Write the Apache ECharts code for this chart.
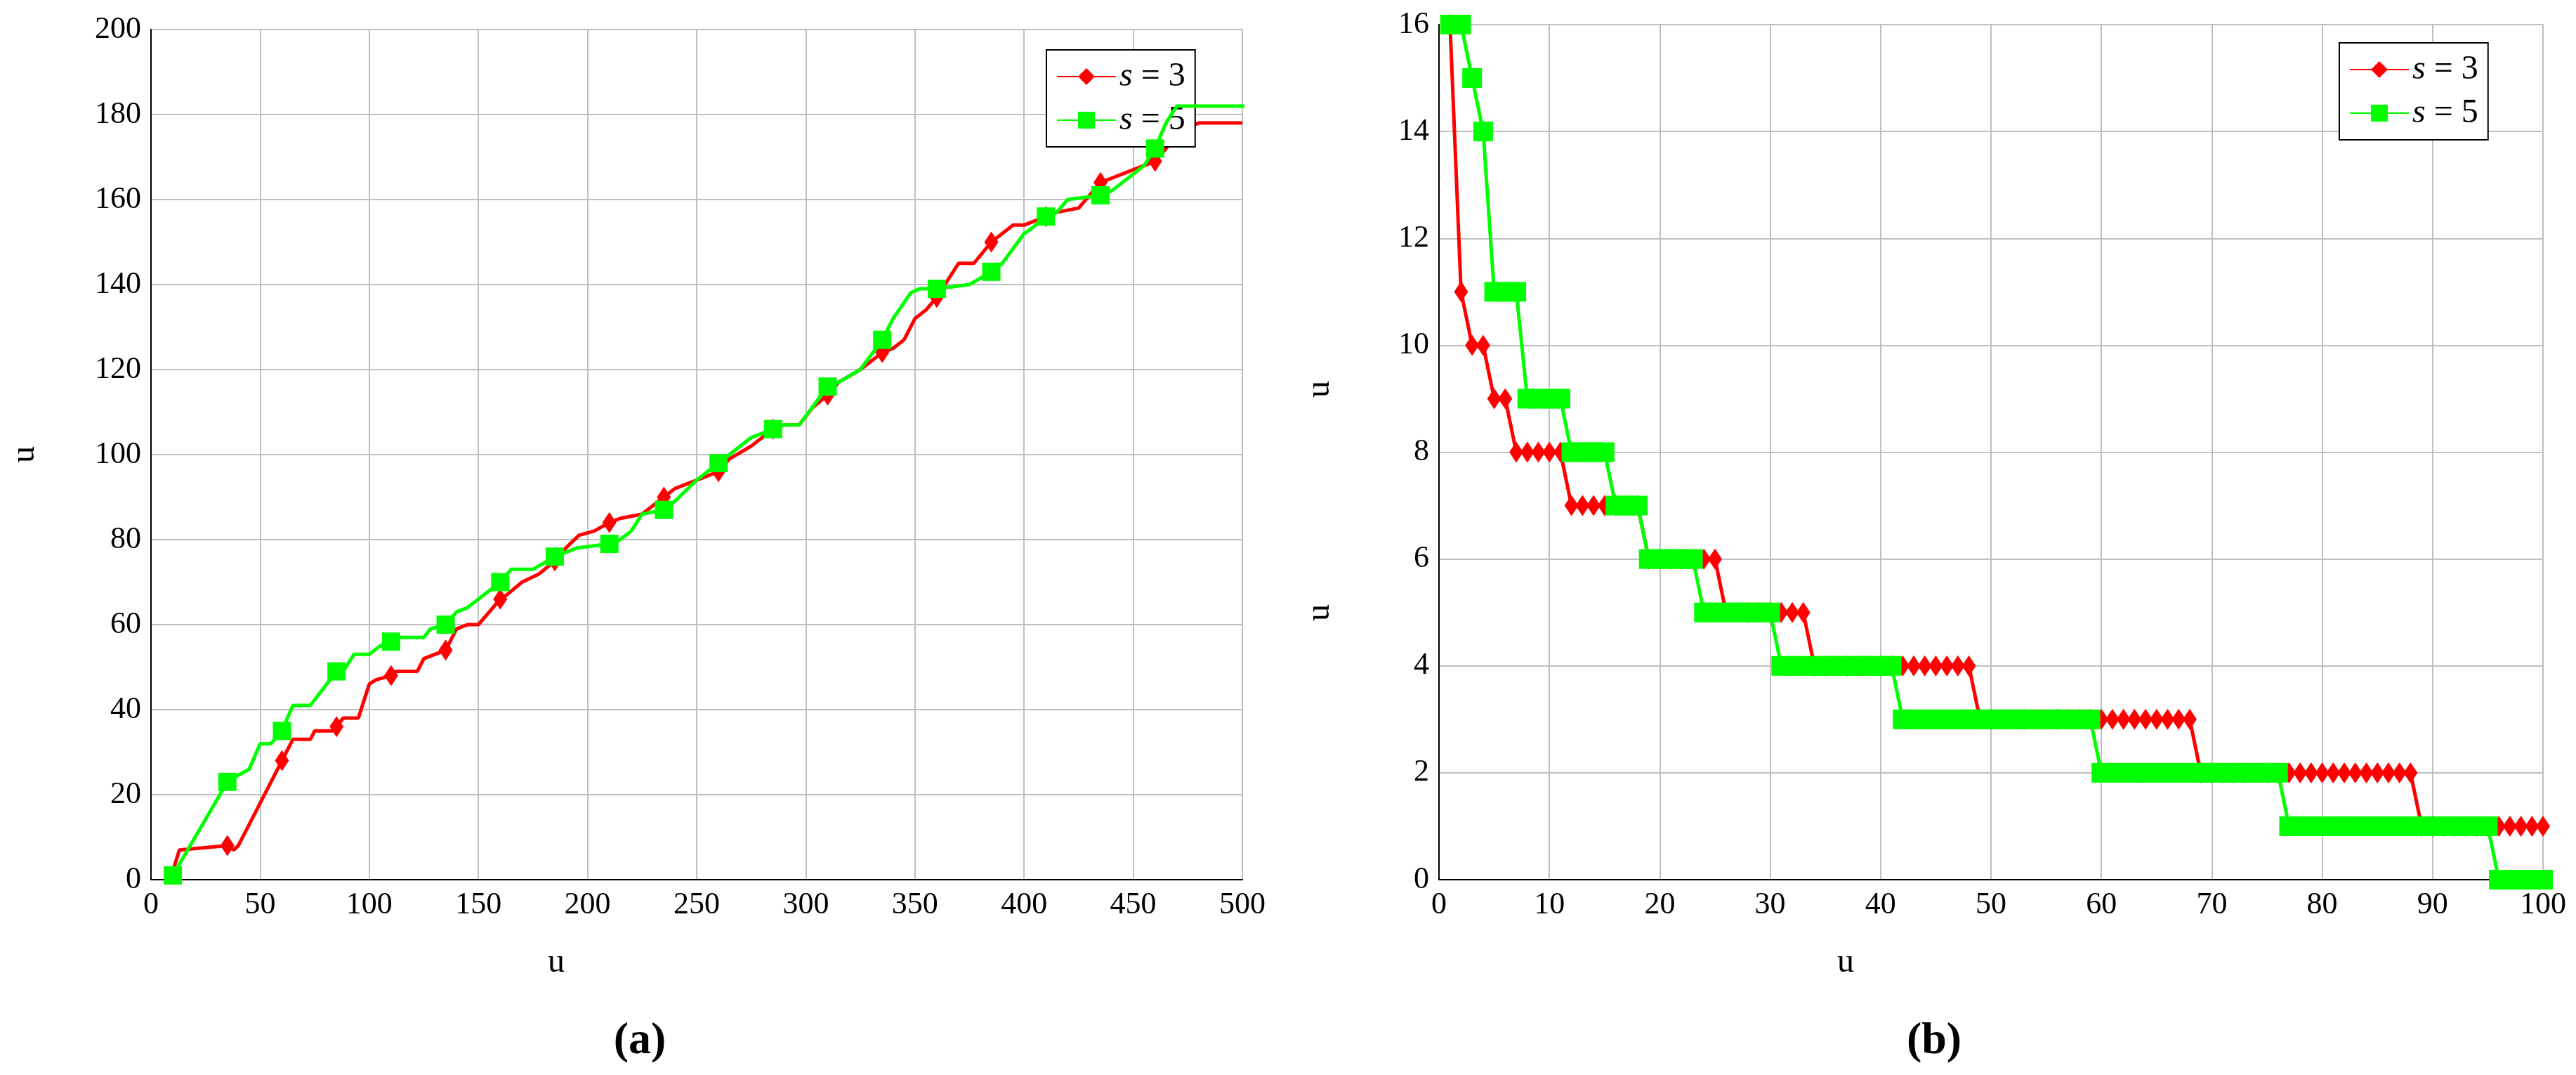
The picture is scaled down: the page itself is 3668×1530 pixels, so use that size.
<!DOCTYPE html>
<html><head><meta charset="utf-8">
<script src="https://cdn.jsdelivr.net/npm/echarts@6/dist/echarts.min.js"></script>
<style>html,body{margin:0;padding:0;background:#fff}#c{width:3668px;height:1530px}</style>
</head><body><div id="c"></div>
<script>
// Panel (a): line breakpoints and marker points
const aRedLine = [[10,2],[13,7],[38,7],[35,8],[40,8],[60,28],[65,33],[73,33],[75,35],[83,35],[85,36],[88,38],[95,38],[100,46],[103,47],[110,48],[112,49],[122,49],[125,52],[130,53],[135,54],[140,59],[145,60],[150,60],[155,63],[160,66],[163,67],[170,70],[178,72],[185,75],[190,78],[196,81],[203,82],[210,84],[215,85],[225,86],[235,90],[240,92],[250,94],[260,96],[265,99],[275,102],[285,106],[290,107],[297,107],[303,111],[310,114],[315,117],[325,120],[335,124],[340,125],[345,127],[350,132],[355,134],[360,137],[365,141],[370,145],[377,145],[385,150],[390,152],[395,154],[400,154],[410,156],[415,157],[425,158],[435,164],[440,165],[450,167],[460,169],[465,172],[470,175],[475,177],[480,178],[500,178]];
const aRedMarkers = [[35,8],[60,28],[85,36],[110,48],[135,54],[160,66],[185,75],[210,84],[235,90],[260,96],[285,106],[310,114],[335,124],[360,137],[385,150],[410,156],[435,164],[460,169]];
const aGreenLine = [[10,1],[35,23],[38,24],[45,26],[50,32],[55,32],[60,35],[65,41],[73,41],[85,49],[88,49],[93,53],[100,53],[105,55],[110,56],[113,57],[125,57],[128,59],[135,60],[140,63],[145,64],[150,66],[160,70],[165,73],[175,73],[185,76],[190,77],[195,78],[210,79],[215,80],[220,82],[225,86],[235,87],[240,89],[250,94],[260,98],[265,100],[275,104],[285,106],[290,107],[297,107],[310,116],[315,117],[325,120],[335,127],[340,132],[348,138],[352,139],[360,139],[375,140],[385,143],[390,145],[400,152],[403,153],[410,156],[415,157],[420,160],[435,161],[440,162],[450,166],[455,168],[460,172],[465,178],[470,182],[505,182]];
const aGreenMarkers = [[10,1],[35,23],[60,35],[85,49],[110,56],[135,60],[160,70],[185,76],[210,79],[235,87],[260,98],[285,106],[310,116],[335,127],[360,139],[385,143],[410,156],[435,161],[460,172]];
// Panel (b): values for x = 1..100
const bRed = [16,11,10,10,9,9,8,8,8,8,8,7,7,7,7,7,7,7,6,6,6,6,6,6,6,5,5,5,5,5,5,5,5,4,4,4,4,4,4,4,4,4,4,4,4,4,4,4,3,3,3,3,3,3,3,3,3,3,3,3,3,3,3,3,3,3,3,3,2,2,2,2,2,2,2,2,2,2,2,2,2,2,2,2,2,2,2,2,1,1,1,1,1,1,1,1,1,1,1,1];
const bGreen = [16,16,15,14,11,11,11,9,9,9,9,8,8,8,8,7,7,7,6,6,6,6,6,5,5,5,5,5,5,5,4,4,4,4,4,4,4,4,4,4,4,3,3,3,3,3,3,3,3,3,3,3,3,3,3,3,3,3,3,2,2,2,2,2,2,2,2,2,2,2,2,2,2,2,2,2,1,1,1,1,1,1,1,1,1,1,1,1,1,1,1,1,1,1,1,0,0,0,0,0];
const aXTicks = [0,50,100,150,200,250,300,350,400,450,500];

const RED='#ff0000', GREEN='#00ff00', FONT='Liberation Serif';
function merge(line, markers, size){
  const key = m => m[0]+','+m[1];
  const ms = new Set(markers.map(key));
  const all = line.slice();
  markers.forEach(m=>{ if(!line.some(p=>key(p)===key(m))) all.push(m); });
  // keep drawn order by x (stable)
  all.sort((p,q)=>p[0]-q[0]);
  return all.map(p=>({value:p, symbolSize: ms.has(key(p))? size : 0}));
}
const axisCommon = {
  axisLine:{show:true,lineStyle:{color:'#000',width:2}},
  axisTick:{show:false},
  splitLine:{show:true,lineStyle:{color:'#bfbfbf',width:2}},
  axisLabel:{color:'#000',fontFamily:FONT,fontSize:44,margin:14}
};
const legendCommon = {
  orient:'vertical', backgroundColor:'#fff', borderColor:'#000', borderWidth:2,
  padding:[14,14,14,14], itemGap:14, itemWidth:84, itemHeight:30,
  textStyle:{fontFamily:FONT,fontSize:48,color:'#000',rich:{i:{fontFamily:FONT,fontStyle:'italic',fontSize:48}}},
  formatter: n => '{i|s} = ' + n.split('=')[1]
};
const chart = echarts.init(document.getElementById('c'));
chart.setOption({
  animation:false,
  grid:[
    {left:215,top:42,width:1554,height:1210,show:true,borderColor:'#bfbfbf',borderWidth:2},
    {left:2049,top:35,width:1572,height:1217,show:true,borderColor:'#bfbfbf',borderWidth:2}
  ],
  xAxis:[
    Object.assign({type:'value',gridIndex:0,min:0,max:500,interval:50},axisCommon),
    Object.assign({type:'value',gridIndex:1,min:0,max:100,interval:10},axisCommon)
  ],
  yAxis:[
    Object.assign({type:'value',gridIndex:0,min:0,max:200,interval:20},axisCommon),
    Object.assign({type:'value',gridIndex:1,min:0,max:16,interval:2},axisCommon)
  ],
  legend:[
    Object.assign({left:1490,top:71,data:['a:s=3','a:s=5']},legendCommon),
    Object.assign({left:3331,top:61,data:['b:s=3','b:s=5']},legendCommon)
  ],
  series:[
    {name:'a:s=3',type:'line',xAxisIndex:0,yAxisIndex:0,symbol:'diamond',symbolSize:[20,30],showAllSymbol:true,
     itemStyle:{color:RED},lineStyle:{color:RED,width:5},data:merge(aRedLine,aRedMarkers,[20,30]),z:3},
    {name:'a:s=5',type:'line',xAxisIndex:0,yAxisIndex:0,symbol:'rect',symbolSize:26,showAllSymbol:true,
     itemStyle:{color:GREEN},lineStyle:{color:GREEN,width:5},data:merge(aGreenLine,aGreenMarkers,26),z:4},
    {name:'b:s=3',type:'line',xAxisIndex:1,yAxisIndex:1,symbol:'diamond',symbolSize:[20,30],showAllSymbol:true,
     itemStyle:{color:RED},lineStyle:{color:RED,width:5},data:bRed.map((v,i)=>[i+1,v]),z:3},
    {name:'b:s=5',type:'line',xAxisIndex:1,yAxisIndex:1,symbol:'rect',symbolSize:28,showAllSymbol:true,
     itemStyle:{color:GREEN},lineStyle:{color:GREEN,width:5},data:bGreen.map((v,i)=>[i+1,v]),z:4}
  ],
  graphic:[
    {type:'text',x:35,y:647,rotation:Math.PI/2,style:{text:'u',font:'48px '+FONT,fill:'#000',align:'center',verticalAlign:'middle'}},
    {type:'text',x:1879,y:554,rotation:Math.PI/2,style:{text:'u',font:'48px '+FONT,fill:'#000',align:'center',verticalAlign:'middle'}},
    {type:'text',x:1879,y:872,rotation:Math.PI/2,style:{text:'u',font:'48px '+FONT,fill:'#000',align:'center',verticalAlign:'middle'}},
    {type:'text',x:792,y:1370,style:{text:'u',font:'48px '+FONT,fill:'#000',align:'center',verticalAlign:'middle'}},
    {type:'text',x:2628,y:1370,style:{text:'u',font:'48px '+FONT,fill:'#000',align:'center',verticalAlign:'middle'}},
    {type:'text',x:911,y:1482,style:{text:'(a)',font:'bold 64px '+FONT,fill:'#000',align:'center',verticalAlign:'middle'}},
    {type:'text',x:2754,y:1482,style:{text:'(b)',font:'bold 64px '+FONT,fill:'#000',align:'center',verticalAlign:'middle'}}
  ]
});
</script></body></html>
